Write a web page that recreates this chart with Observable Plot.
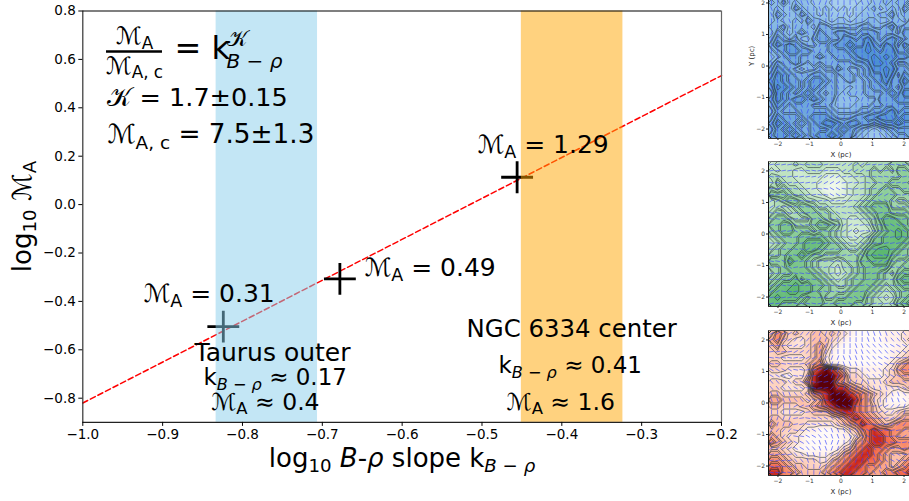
<!DOCTYPE html>
<html>
<head>
<meta charset="utf-8">
<script src="https://cdn.jsdelivr.net/npm/d3@7"></script>
<script src="https://cdn.jsdelivr.net/npm/@observablehq/plot@0.6"></script>
<style>
html,body{margin:0;padding:0;background:#fff;overflow:hidden;width:909px;height:501px;position:relative}
svg{position:absolute;display:block;overflow:visible;background:transparent!important}
</style>
</head>
<body>
<script>
const slopeTicks = [-1.0,-0.9,-0.8,-0.7,-0.6,-0.5,-0.4,-0.3,-0.2];
const machTicks = [-0.8,-0.6,-0.4,-0.2,0.0,0.2,0.4,0.6,0.8];
const fitSlope = [-1.0,-0.2];
const fitMach = [-0.82,0.533];
const pointSlope = [-0.824,-0.678,-0.456];
const pointMach = [-0.504,-0.307,0.113];
const taurusBand = [-0.833,-0.706];
const ngcBand = [-0.4507,-0.3235];
const panelTicks = [-2,-1,0,1,2];

const blueField = [
"344334423221122123344334","435343322211111223343445","343354332321212234234354","354335432322212333445344",
"343343544323323344334435","445344435544444554456455","354345446556655666555466","465453356655776786567656",
"576765445567787797687576","456776655566678898788667","345665556556667889898776","465565454555556679987556",
"576543445446544568898665","687655566554554567797576","787665677654454456786687","698765676554434456676577",
"587656765454344455567688","687677676553333444666777","576566655543334445566666","465556666654444556678677",
"576665677765556677888788","687656567887677665677877","576765566676765432345666","677676567787664322234556"];
const greenField = [
"233343444333334344445554","323322333222334445454665","443322222111223345555566","354332221100122344556665",
"545443221000123345565566","666544322101123345666555","345665443322233456665445","343456654433334567775554",
"455345665543333456776665","566544466544322345788776","667755567765322235688876","567766656654321224678987",
"456667777654322346788987","345667888765433457788876","456677887666544578998765","556778766555555689997665",
"666877654443455778886556","556777654432445677775566","456677765432345677654677","567786776543456677655788",
"678898877654456776545677","788998876655567765434566","898887677556677754323567","887776777667776654434678"];
const redField = [
"465343344343210000011122","564322344432100000011123","453222345421000000000112","344333345310000000001123",
"332222345210000000001234","443333456311000000012456","333222378986422111123566","221122489998633211123455",
"333233689996543322234444","332222399998865432222234","443333467899987654321011","554444345899998653210001",
"443334456789997654211112","332222344467887654322344","443333333334578765433455","544433222223456876545666",
"443332110001134678776655","543221000000113578876555","654321000000125678877666","443210000001346787765565",
"554322111123567887654445","665433332245678877654456","776544333456788766554567","886654444567887765566778"];

const blueAngles = ["008810088100","800081108800","081000800018","108800088001","000810008100","880001800888",
"018800080018","800108008800","081000810001","008180008108","180008100880","000881000810"];
const greenAngles = ["445544334455","544433445544","455456544354","345544455665","554466544454","446554345566",
"554445564445","455354465544","564445544356","445564354445","354455446554","445544564445"];
const redAngles = ["332211008877","443210087766","554321887654","665431007765","776542118876","887653220087",
"003456654321","114567765432","225678876543","336781007654","447802118765","558013227876"];

const renderMath = (el) => {
  const raw = el.textContent;
  if (!/[_^*]/.test(raw)) return;
  const base = parseFloat(getComputedStyle(el).fontSize);
  el.textContent = "";
  const add = (parent, str, attrs = {}) => {
    const t = document.createElementNS("http://www.w3.org/2000/svg", "tspan");
    t.textContent = str;
    for (const k in attrs) t.setAttribute(k, attrs[k]);
    parent.appendChild(t);
    return t;
  };
  let rest = raw, pending = 0;
  const re = /([_^])\{([^}]*)\}/;
  const plain = (str, extra = {}) => {
    str.split("*").forEach((part, i) => {
      if (!part) return;
      const attrs = {...extra};
      if (i % 2) attrs["font-style"] = "italic";
      if (pending) { attrs.dy = pending; pending = 0; }
      add(el, part, attrs);
    });
  };
  while (rest.length) {
    const m = rest.match(re);
    if (!m) { plain(rest); break; }
    plain(rest.slice(0, m.index));
    const shift = base * 0.2;
    pending += shift;
    plain(m[2], {"font-size": base * 0.7});
    pending = -shift;
    rest = rest.slice(m.index + m[0].length);
  }
};

const note = (text, x, y, size, anchor = "start", extra = {}) =>
  Plot.text([text], {x: () => x, y: () => y, text: d => d, fontSize: size, textAnchor: anchor,
    lineAnchor: "bottom", fill: "#000", ...extra});

const main = Plot.plot({
  width: 760, height: 480,
  marginLeft: 82.3, marginRight: 39, marginTop: 10.5, marginBottom: 58.1,
  style: {fontFamily: "'DejaVu Sans'", background: "transparent", overflow: "visible"},
  x: {domain: [-1, -0.2]},
  y: {domain: [-0.9, 0.8]},
  marks: [
    Plot.line(fitSlope.map((s, i) => [s, fitMach[i]]), {x: d => d[0], y: d => d[1], stroke: "#f00", strokeWidth: 1.5, strokeDasharray: "5.5 3"}),
    Plot.dot(pointSlope.map((s, i) => [s, pointMach[i]]), {x: d => d[0], y: d => d[1], symbol: "plus", r: 10.3, stroke: "#000", strokeWidth: 2.8}),
    Plot.rectX([0], {x1: () => taurusBand[0], x2: () => taurusBand[1], y1: () => -0.9, y2: () => 0.8, fill: "skyblue", fillOpacity: 0.5}),
    Plot.rectX([0], {x1: () => ngcBand[0], x2: () => ngcBand[1], y1: () => -0.9, y2: () => 0.8, fill: "orange", fillOpacity: 0.5}),
    Plot.ruleX([-1], {stroke: "#333", strokeWidth: 1.2}),
    Plot.ruleX([-0.2], {stroke: "#666", strokeWidth: 1.2}),
    Plot.ruleY([0.8], {stroke: "#000", strokeWidth: 1.2}),
    Plot.ruleY([-0.9], {stroke: "#222", strokeWidth: 1.2}),
    Plot.axisX(slopeTicks, {tickSize: 4, tickPadding: 3, fontSize: 13.5, label: null, tickFormat: d3.format(".1f"), stroke: "#000", fill: "#000", anchor: "bottom"}),
    Plot.axisY(machTicks, {tickSize: 4, tickPadding: 3, fontSize: 13.5, label: null, tickFormat: d3.format(".1f"), stroke: "#000", fill: "#000", anchor: "left"}),
    note("ℳ_{A}", -0.9352, 0.6616, 24, "middle"),
    note("ℳ_{A, c}", -0.9352, 0.5417, 24, "middle"),
    Plot.ruleY([0.6326], {x1: () => -0.9703, x2: () => -0.9002, stroke: "#000", strokeWidth: 2.6}),
    note("= k", -0.8852, 0.6037, 32),
    note("𝒦", -0.82, 0.6574, 22),
    note("*B* − *ρ*", -0.82, 0.5624, 20),
    note("𝒦 = 1.7±0.15", -0.9691, 0.4054, 25.5),
    note("ℳ_{A, c} = 7.5±1.3", -0.9691, 0.2525, 26.3),
    note("ℳ_{A} = 0.31", -0.924, -0.4033, 25),
    note("ℳ_{A} = 0.49", -0.6472, -0.2971, 25),
    note("ℳ_{A} = 1.29", -0.5056, 0.2124, 25),
    note("Taurus outer", -0.8601, -0.6471, 25),
    note("k_{*B* − *ρ*} ≈\u00a00.17", -0.8488, -0.7475, 23),
    note("ℳ_{A} ≈\u00a00.4", -0.8392, -0.8467, 23.5),
    note("NGC 6334 center", -0.5194, -0.5479, 24.4),
    note("k_{*B* − *ρ*} ≈\u00a00.41", -0.4793, -0.6979, 23),
    note("ℳ_{A} ≈\u00a01.6", -0.4693, -0.8467, 23.5),
    note("log_{10} *B*-*ρ* slope k_{*B* − *ρ*}", -0.6002, -1.0851, 26, "middle"),
    note("log_{10} ℳ_{A}", -1.0655, -0.0492, 26, "middle", {rotate: -90})
  ]
});
main.style.left = "0px";
main.style.top = "0px";
document.body.appendChild(main);
main.querySelectorAll("text").forEach(renderMath);

const flat = rows => rows.flatMap(r => Array.from(r.padEnd(24, "4"), Number));

function panel(rows, angles, range, top, showY) {
  const cells = [];
  for (let i = 0; i < 24; i++) for (let j = 0; j < 24; j++) {
    cells.push({
      x: -2.3 + (j + 0.5) * 4.6 / 24,
      y: 2.3 - (i + 0.5) * 4.6 / 24,
      a: Number(angles[Math.floor(i / 2)][Math.floor(j / 2)]) * 20
    });
  }
  const values = flat(rows);
  const grid = {width: 24, height: 24, x1: -2.3, x2: 2.3, y1: 2.3, y2: -2.3};
  const p = Plot.plot({
    width: 172, height: 172,
    marginLeft: 26, marginRight: 1, marginTop: 1, marginBottom: 26,
    style: {fontFamily: "'DejaVu Sans'", background: "transparent", overflow: "visible"},
    x: {domain: [-2.3, 2.3]},
    y: {domain: [-2.3, 2.3]},
    color: {type: "linear", domain: range.map((_, i) => i * 9 / (range.length - 1)), range, interpolate: "rgb"},
    marks: [
      Plot.raster(values, {...grid, fill: d => d, interpolate: "nearest", imageRendering: "auto"}),
      Plot.contour(values, {...grid, value: d => d, thresholds: [1.5,2.5,3.5,4.5,5.5,6.5,7.5,8.5,4.2,5.2,6.2,7.2], stroke: "#1f2a30", strokeWidth: 0.75, strokeOpacity: 0.75, fill: "none"}),
      Plot.vector(cells, {x: "x", y: "y", rotate: "a", length: 4, anchor: "middle", stroke: "#3a46ff", strokeWidth: 0.7, strokeOpacity: 0.85,
        shape: {draw(c, l) { c.moveTo(0, 0); c.lineTo(0, -l); }}}),
      Plot.ruleX([-2.3], {stroke: "#111", strokeWidth: 1}),
      Plot.ruleY([-2.3], {stroke: "#333", strokeWidth: 1}),
      Plot.ruleY([2.3], {stroke: "#555", strokeWidth: 0.8}),
      Plot.axisX(panelTicks, {tickSize: 2, tickPadding: 1.5, fontSize: 6, anchor: "bottom", stroke: "#222", fill: "#333", tickFormat: d3.format("d"), label: null}),
      Plot.axisY(panelTicks, {tickSize: 2, tickPadding: 1.5, fontSize: 6, anchor: "left", stroke: "#222", fill: "#333", tickFormat: d3.format("d"), label: null}),
      Plot.text(["X (pc)"], {frameAnchor: "bottom", text: d => d, dy: 16.5, lineAnchor: "middle", fontSize: 7, fill: "#222"}),
      showY ? Plot.text(["Y (pc)"], {frameAnchor: "left", text: d => d, dx: -17, rotate: -90, lineAnchor: "middle", fontSize: 7, fill: "#222"}) : null
    ]
  });
  p.style.left = "741.5px";
  p.style.top = top + "px";
  document.body.appendChild(p);
}
panel(blueField, blueAngles, ["#b5d8f0", "#4a8fd2"], -8, true);
panel(greenField, greenAngles, ["#f0f9ea", "#5cb870"], 160, false);
panel(redField, redAngles, ["#fffaf7","#fff0e8","#fee3d6","#fdd3c0","#fcc0a8","#fba88a","#f98a68","#f46a4c","#c8281e","#5a0008"], 329, false);
</script>
</body>
</html>
